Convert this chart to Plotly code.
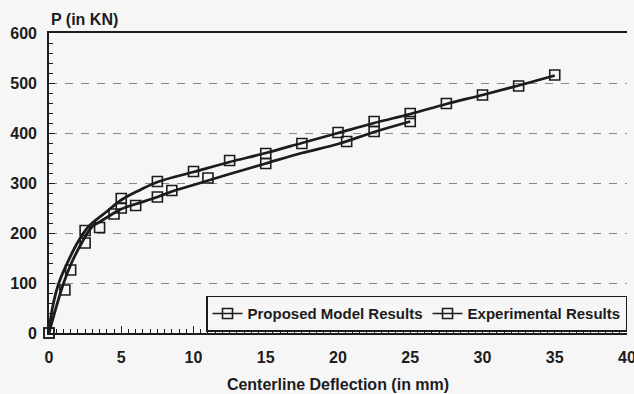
import plotly.graph_objects as go

# Smooth curve lines
proposed_curve_x = [0, 0.21, 0.67, 1.25, 1.94, 2.74, 4, 5, 6.3, 7.5, 10, 12.5, 15, 17.5, 20, 22.5, 25, 27.5, 30, 32.5, 35]
proposed_curve_y = [0, 46, 99, 139, 179, 213, 243, 266, 286, 302, 322, 342, 360, 380, 400, 420, 438, 458, 476, 495, 515]

experimental_curve_x = [0, 0.44, 1.0, 1.54, 2.24, 2.97, 3.5, 4.5, 5, 6, 7.5, 8.5, 10, 12.5, 15, 17.5, 20, 22.5, 25]
experimental_curve_y = [0, 46, 99, 139, 179, 212, 222, 240, 248, 258, 272, 283, 296, 318, 339, 360, 378, 402, 423]

# Marker points
proposed_x = [0, 2.5, 5, 7.5, 10, 12.5, 15, 17.5, 20, 22.5, 25, 27.5, 30, 32.5, 35]
proposed_y = [0, 205, 269, 303, 323, 345, 359, 379, 401, 423, 439, 459, 476, 494, 516]

experimental_x = [0, 1.1, 1.5, 2.5, 3.5, 4.5, 5, 6, 7.5, 8.5, 11, 15, 20.6, 22.5, 25]
experimental_y = [0, 86, 126, 180, 211, 238, 250, 255, 272, 285, 310, 339, 383, 403, 423]

x_ticks = [0, 5, 10, 15, 20, 25, 30, 35, 40]
y_ticks = [0, 100, 200, 300, 400, 500, 600]

INK = "#1c1c1c"
BG = "#f6f6f6"
FONT = "Liberation Sans"

fig = go.Figure()

for cx, cy in [(proposed_curve_x, proposed_curve_y), (experimental_curve_x, experimental_curve_y)]:
    fig.add_trace(go.Scatter(x=cx, y=cy, mode="lines", showlegend=False, hoverinfo="skip",
                             line=dict(color=INK, width=2.8, shape="spline", smoothing=1.0)))

marker_style = dict(symbol="square-open", size=10, color=INK, line=dict(color=INK, width=1.6))
for mx, my in [(proposed_x, proposed_y), (experimental_x, experimental_y)]:
    fig.add_trace(go.Scatter(x=mx, y=my, mode="markers", showlegend=False, marker=marker_style,
                             cliponaxis=False))

for name in ["Proposed Model Results", "Experimental Results"]:
    fig.add_trace(go.Scatter(x=[None], y=[None], mode="lines+markers", name=name,
                             line=dict(color=INK, width=1.6), marker=marker_style))

fig.update_layout(
    width=634, height=394,
    margin=dict(l=49, r=7, t=33, b=61),
    paper_bgcolor=BG, plot_bgcolor=BG,
    font=dict(family=FONT, size=16, color=INK, weight="bold"),
    showlegend=True,
    legend=dict(orientation="h", x=1.0, xanchor="right", y=0.004, yanchor="bottom",
                bgcolor=BG, bordercolor=INK, borderwidth=1.5,
                font=dict(family=FONT, size=15, color=INK, weight="bold"),
                itemwidth=30, tracegroupgap=0),
    xaxis=dict(range=[0, 40], tickvals=x_ticks, ticktext=[str(v) for v in x_ticks],
               showgrid=False, zeroline=False, automargin=False,
               showline=True, linecolor=INK, linewidth=1.6, mirror=True,
               ticks="inside", ticklen=7, tickwidth=1.2, tickcolor=INK,
               minor=dict(ticks="inside", dtick=0.5, ticklen=4, tickwidth=1, tickcolor=INK, showgrid=False),
               tickfont=dict(family=FONT, size=16, color=INK, weight="bold"),
               ticklabelstandoff=9, ticklabeloverflow="allow",
               title=dict(text="Centerline Deflection (in mm)", standoff=14,
                          font=dict(family=FONT, size=16, color=INK, weight="bold"))),
    yaxis=dict(range=[0, 600], tickvals=y_ticks, ticktext=[str(v) for v in y_ticks],
               showgrid=True, gridcolor="#8a8a8a", gridwidth=1, griddash="8px,8px",
               zeroline=False, automargin=False,
               showline=True, linecolor=INK, linewidth=1.6,
               ticks="inside", ticklen=6, tickwidth=1.2, tickcolor=INK,
               minor=dict(ticks="inside", dtick=20, ticklen=4, tickwidth=1, tickcolor=INK, showgrid=False),
               tickfont=dict(family=FONT, size=16, color=INK, weight="bold"),
               ticklabelstandoff=7),
    annotations=[dict(text="P (in KN)", xref="paper", yref="paper", x=0, y=1,
                      xanchor="left", yanchor="bottom", yshift=3, showarrow=False,
                      font=dict(family=FONT, size=16, color=INK, weight="bold"))],
)

fig.write_html("out.html")
